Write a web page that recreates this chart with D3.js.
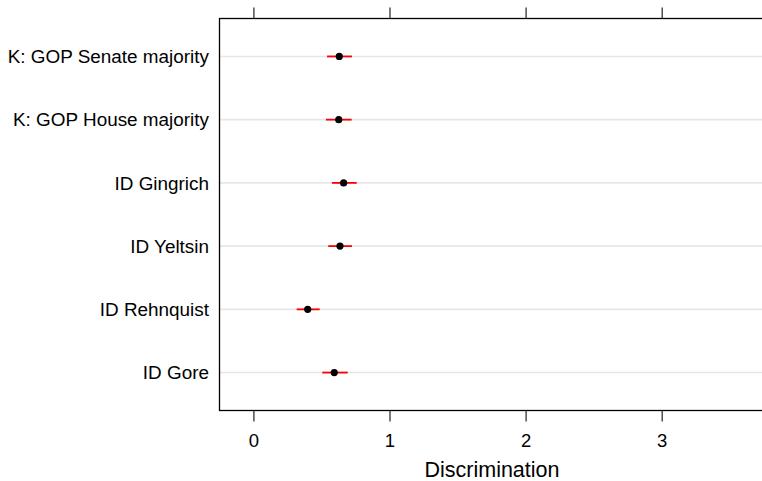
<!DOCTYPE html>
<html>
<head>
<meta charset="utf-8">
<script src="https://cdn.jsdelivr.net/npm/d3@7"></script>
<style>
  html, body { margin: 0; padding: 0; background: #fff; }
  svg { display: block; font-family: "Liberation Sans", Arial, sans-serif; }
</style>
</head>
<body>
<svg id="chart" width="762" height="481"></svg>
<script>
// Data (listed bottom row first)
const categories = ["ID Gore", "ID Rehnquist", "ID Yeltsin", "ID Gingrich", "K: GOP House majority", "K: GOP Senate majority"];
const estimates  = [0.594, 0.399, 0.636, 0.663, 0.627, 0.631];
const lowerCI    = [0.506, 0.318, 0.550, 0.577, 0.533, 0.541];
const upperCI    = [0.693, 0.487, 0.724, 0.759, 0.722, 0.724];
const xTicks = [0, 1, 2, 3];
const xLabel = "Discrimination";

const svg = d3.select("#chart");
const plotLeft = 219.5, plotRight = 764, plotTop = 18.5, plotBottom = 410.5;

const x = d3.scaleLinear().domain([0, 3]).range([253.4, 661.7]);
const y = d3.scaleLinear().domain([0.4, 6.6]).range([plotBottom, plotTop]);

const rows = categories.map((c, i) => ({cat: c, idx: i + 1, est: estimates[i], lo: lowerCI[i], hi: upperCI[i]}));

// grid lines
svg.append("g").selectAll("line").data(rows).join("line")
  .attr("x1", plotLeft).attr("x2", plotRight)
  .attr("y1", d => y(d.idx)).attr("y2", d => y(d.idx))
  .attr("stroke", "#e6e6e6").attr("stroke-width", 1.6);

// CI bars
svg.append("g").selectAll("line").data(rows).join("line")
  .attr("x1", d => x(d.lo)).attr("x2", d => x(d.hi))
  .attr("y1", d => y(d.idx)).attr("y2", d => y(d.idx))
  .attr("stroke", "#ff0000").attr("stroke-width", 1.8);

// points
svg.append("g").selectAll("circle").data(rows).join("circle")
  .attr("cx", d => x(d.est)).attr("cy", d => y(d.idx))
  .attr("r", 3.6).attr("fill", "#000");

// frame
svg.append("rect").attr("x", plotLeft).attr("y", plotTop)
  .attr("width", plotRight - plotLeft).attr("height", plotBottom - plotTop)
  .attr("fill", "none").attr("stroke", "#000").attr("stroke-width", 1.3);

// bottom axis
const bAxis = d3.axisBottom(x).tickValues(xTicks).tickFormat(d3.format("d")).tickSizeInner(11).tickSizeOuter(0).tickPadding(12);
const gb = svg.append("g").attr("transform", `translate(0,${plotBottom})`).call(bAxis);
gb.select(".domain").remove();
gb.selectAll(".tick line").attr("stroke", "#333").attr("stroke-width", 1.3);
gb.selectAll(".tick text").attr("font-size", 18.5).attr("fill", "#000").attr("font-family", "Liberation Sans, Arial, sans-serif");

// top axis ticks (no labels)
const tAxis = d3.axisTop(x).tickValues(xTicks).tickFormat("").tickSizeInner(11).tickSizeOuter(0);
const gt = svg.append("g").attr("transform", `translate(0,${plotTop})`).call(tAxis);
gt.select(".domain").remove();
gt.selectAll(".tick line").attr("stroke", "#333").attr("stroke-width", 1.3);

// category labels
svg.append("g").selectAll("text").data(rows).join("text")
  .attr("x", 209).attr("y", d => y(d.idx))
  .attr("dy", "0.35em").attr("text-anchor", "end")
  .attr("font-size", 18.9).attr("fill", "#000")
  .text(d => d.cat);

// x label
svg.append("text").attr("x", (422 + 562) / 2).attr("y", 477)
  .attr("text-anchor", "middle").attr("font-size", 21.5).attr("fill", "#000")
  .text(xLabel);
</script>
</body>
</html>
